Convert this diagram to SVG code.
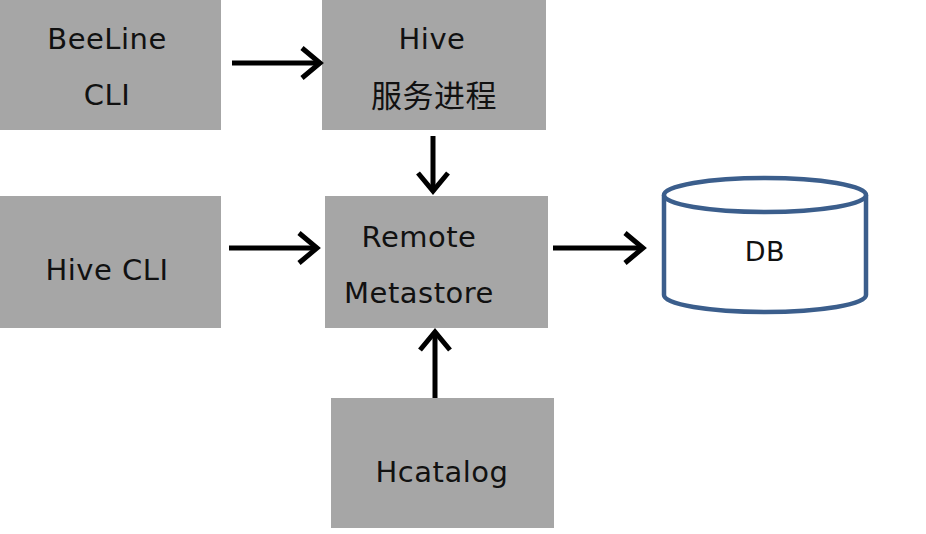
<svg xmlns="http://www.w3.org/2000/svg" width="926" height="534" viewBox="0 0 926 534">
<style>
.box{fill:#a6a6a6}
.t{font-family:"DejaVu Sans","Noto Sans CJK SC",sans-serif;font-size:29px;fill:#111;text-anchor:middle;letter-spacing:0.5px}
.cjk{font-family:"Noto Sans CJK SC",sans-serif;font-size:31px}
.c{stroke:#000;stroke-width:5;fill:none}
</style>
<defs>
<marker id="ah" markerUnits="userSpaceOnUse" markerWidth="40" markerHeight="40" refX="24" refY="20" orient="auto" viewBox="0 0 40 40">
<path d="M6,5 L24,20 L6,35" fill="none" stroke="#000" stroke-width="5"/>
</marker>
</defs>
<rect width="926" height="534" fill="#fff"/>
<g id="beeline"><rect class="box" x="0" y="0" width="221" height="130"/><text class="t" x="107" y="49">BeeLine</text><text class="t" x="107" y="105">CLI</text></g>
<g id="hive-service"><rect class="box" x="322" y="0" width="224" height="130"/><text class="t" x="432" y="49">Hive</text><text class="t cjk" x="434" y="107">服务进程</text></g>
<g id="hive-cli"><rect class="box" x="0" y="196" width="221" height="132"/><text class="t" x="107" y="280">Hive CLI</text></g>
<g id="metastore"><rect class="box" x="325" y="196" width="223" height="132"/><text class="t" x="419" y="247">Remote</text><text class="t" x="419" y="303">Metastore</text></g>
<g id="hcatalog"><rect class="box" x="331" y="398" width="223" height="130"/><text class="t" x="442" y="482">Hcatalog</text></g>
<g id="db"><path d="M664,195 L664,295 A101,17 0 0 0 866,295 L866,195" fill="#fff" stroke="#3b5e8c" stroke-width="4.5"/><ellipse cx="765" cy="195" rx="101" ry="17" fill="#fff" stroke="#3b5e8c" stroke-width="4.5"/><text class="t" x="765" y="261" style="font-size:27px">DB</text></g>
<g id="connectors">
<line class="c" x1="232" y1="63" x2="320" y2="63" marker-end="url(#ah)"/>
<line class="c" x1="229" y1="248" x2="317" y2="248" marker-end="url(#ah)"/>
<line class="c" x1="433" y1="136" x2="433" y2="191" marker-end="url(#ah)"/>
<line class="c" x1="435" y1="398" x2="435" y2="332" marker-end="url(#ah)"/>
<line class="c" x1="553" y1="248" x2="643" y2="248" marker-end="url(#ah)"/>
</g>
</svg>
